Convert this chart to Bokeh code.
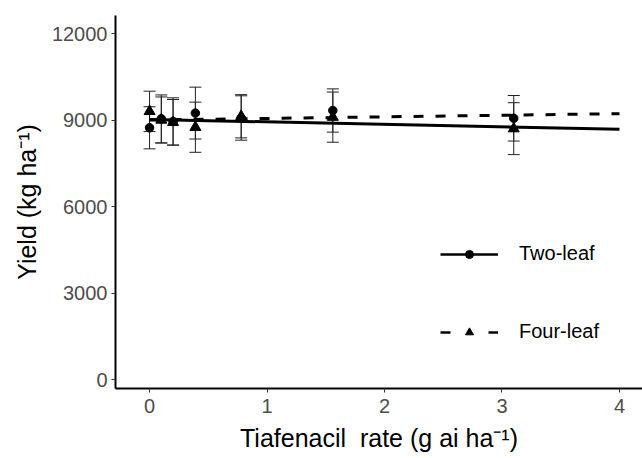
from bokeh.plotting import figure
from bokeh.models import ColumnDataSource, Whisker, TeeHead, Legend, LegendItem, Range1d, FixedTicker
from bokeh.embed import file_html
from bokeh.resources import INLINE

# Data
rate = [0, 0.1, 0.2, 0.39, 0.78, 1.56, 3.1]
two_leaf = [8730, 9040, 8950, 9240, 9070, 9330, 9060]
two_err = [730, 830, 820, 900, 770, 750, 790]
four_leaf = [9300, 9000, 8920, 8750, 9130, 9100, 8700]
four_err = [700, 800, 790, 870, 750, 870, 900]

fit_x = [0, 4]
two_fit = [9020, 8680]
four_fit = [9000, 9220]

x_ticks = [0, 1, 2, 3, 4]
y_ticks = [0, 3000, 6000, 9000, 12000]

FONT = "Liberation Sans"
NAN = float("nan")

p = figure(width=642, height=458, output_backend="svg", toolbar_location=None,
           x_range=Range1d(-0.29, 4.196), y_range=Range1d(-312, 12625),
           min_border_left=115, min_border_right=0, min_border_top=15, min_border_bottom=70)
p.outline_line_color = None
p.xgrid.visible = False
p.ygrid.visible = False

two_src = ColumnDataSource(dict(x=rate, y=two_leaf,
                                lo=[m - e for m, e in zip(two_leaf, two_err)],
                                hi=[m + e for m, e in zip(two_leaf, two_err)]))
four_src = ColumnDataSource(dict(x=rate, y=four_leaf,
                                 lo=[m - e for m, e in zip(four_leaf, four_err)],
                                 hi=[m + e for m, e in zip(four_leaf, four_err)]))

for src in (two_src, four_src):
    w = Whisker(source=src, base="x", lower="lo", upper="hi",
                line_color="#222222", line_width=1,
                lower_head=TeeHead(size=12, line_color="#222222", line_width=1),
                upper_head=TeeHead(size=12, line_color="#222222", line_width=1))
    p.add_layout(w)

p.line(fit_x, two_fit, line_color="black", line_width=3)
p.line(fit_x, four_fit, line_color="black", line_width=3, line_dash="10 12")

p.scatter("x", "y", source=two_src, marker="circle", size=8.5, color="black")
p.scatter("x", "y", source=four_src, marker="triangle", size=11, color="black")

# legend-only renderers (single NaN point so nothing is drawn in the plot)
l1 = p.line(x=[NAN], y=[NAN], line_color="black", line_width=2.5)
m1 = p.scatter(x=[NAN], y=[NAN], marker="circle", size=10, color="black")
l2 = p.line(x=[NAN], y=[NAN], line_color="black", line_width=2.5, line_dash="10 38")
m2 = p.scatter(x=[NAN], y=[NAN], marker="triangle", size=13, color="black")

legend = Legend(items=[LegendItem(label="Two-leaf", renderers=[l1, m1]),
                       LegendItem(label="Four-leaf", renderers=[l2, m2])],
                location=(325, 45), glyph_width=58, glyph_height=20, label_height=20,
                spacing=55, padding=0, margin=0, label_standoff=21,
                background_fill_alpha=0, border_line_alpha=0,
                label_text_font=FONT, label_text_font_size="20px", label_text_color="black")
p.add_layout(legend)

for ax in (p.xaxis[0], p.yaxis[0]):
    ax.axis_line_width = 2
    ax.axis_line_color = "black"
    ax.major_tick_line_color = "#333333"
    ax.major_tick_line_width = 1
    ax.major_tick_out = 4
    ax.major_tick_in = 0
    ax.minor_tick_line_color = None
    ax.major_label_text_font = FONT
    ax.major_label_text_font_size = "20px"
    ax.major_label_text_color = "#4D4D4D"
    ax.axis_label_text_font = FONT
    ax.axis_label_text_font_size = "25px"
    ax.axis_label_text_font_style = "normal"
    ax.axis_label_text_color = "black"

p.xaxis.ticker = FixedTicker(ticks=x_ticks)
p.yaxis.ticker = FixedTicker(ticks=y_ticks)
p.xaxis.axis_label = "Tiafenacil\u00a0 rate (g ai ha\u207b\u00b9)"
p.yaxis.axis_label = "Yield (kg ha\u207b\u00b9)"
p.xaxis.major_label_standoff = 6
p.yaxis.major_label_standoff = 4
p.xaxis.axis_label_standoff = 8
p.yaxis.axis_label_standoff = 8

open("out.html", "w").write(file_html(p, INLINE))
